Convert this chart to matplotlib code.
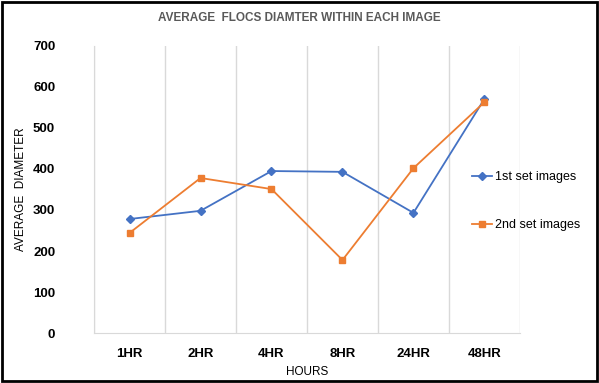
import matplotlib.pyplot as plt
from matplotlib.patches import Rectangle

hours = ['1HR', '2HR', '4HR', '8HR', '24HR', '48HR']
set1 = [278, 298, 395, 393, 293, 571]
set2 = [244, 378, 351, 178, 402, 563]

plt.rcParams['font.family'] = ['Liberation Sans', 'DejaVu Sans']

fig = plt.figure(figsize=(5.99, 3.83), dpi=100)
ax = fig.add_axes([0.157, 0.1305, 0.711, 0.7495])

x = list(range(len(hours)))
ax.plot(x, set1, color='#4472C4', marker='D', markersize=4, lw=1.3, label='1st set images')
ax.plot(x, set2, color='#ED7D31', marker='s', markersize=5, lw=1.3, label='2nd set images')

ax.set_xlim(-0.5, len(hours) - 0.5)
ax.set_ylim(0, 700)
ax.set_yticks(range(0, 701, 100))
ax.set_yticklabels([str(v) for v in range(0, 701, 100)], fontsize=9.5, fontweight='bold')
ax.set_xticks(x)
ax.set_xticklabels(hours, fontsize=9.5, fontweight='bold')
ax.set_xticks([i - 0.5 for i in range(len(hours) + 1)], minor=True)
ax.grid(True, which='minor', axis='x', color='#d9d9d9', lw=1)
ax.tick_params(which='both', length=0)
ax.tick_params(axis='y', pad=28)
ax.tick_params(axis='x', pad=11)
for s in ['top', 'right']:
    ax.spines[s].set_visible(False)
for s in ['left', 'bottom']:
    ax.spines[s].set_color('#d9d9d9')

ax.set_xlabel('HOURS', fontsize=8.5, labelpad=4)
ax.set_ylabel('AVERAGE  DIAMETER', fontsize=8.5, labelpad=4)
fig.text(0.5, 0.952, 'AVERAGE  FLOCS DIAMTER WITHIN EACH IMAGE', ha='center', va='center',
         fontsize=8.5, fontweight='bold', color='#595959')

fig.legend(loc='center left', bbox_to_anchor=(0.77, 0.475), frameon=False, fontsize=9,
           labelspacing=2.9, handlelength=1.6, handletextpad=0.2)

fig.patches.append(Rectangle((0.004, 0.004), 0.992, 0.992, transform=fig.transFigure,
                             fill=False, edgecolor='black', lw=2))

fig.savefig('out.png', dpi=100)
